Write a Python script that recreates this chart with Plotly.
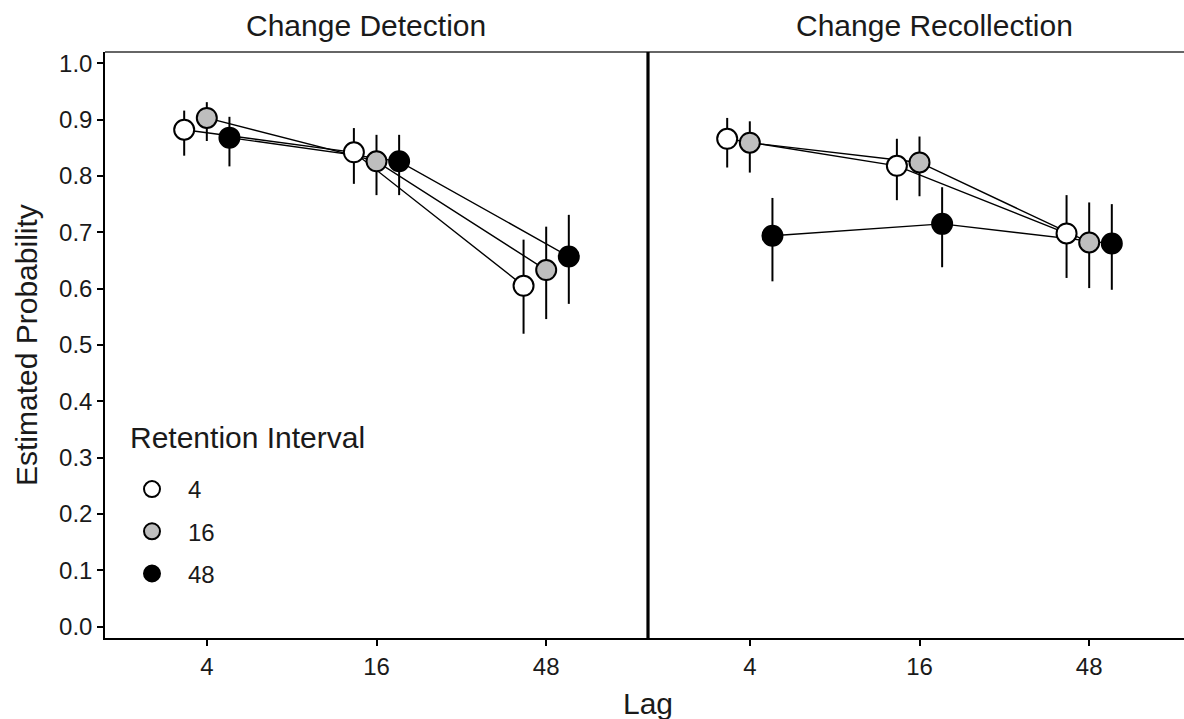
import plotly.graph_objects as go

# ---------------- data ----------------
lags = ["4", "16", "48"]
retention = ["4", "16", "48"]
panels = ["Change Detection", "Change Recollection"]
legend_title = "Retention Interval"
fills = ["white", "#BEBEBE", "black"]

# Change Detection: estimate / upper / lower, per retention interval across lags 4,16,48
det_r4 = [0.882, 0.842, 0.605]
det_r4_hi = [0.916, 0.885, 0.687]
det_r4_lo = [0.836, 0.786, 0.520]
det_r16 = [0.903, 0.826, 0.633]
det_r16_hi = [0.931, 0.873, 0.710]
det_r16_lo = [0.862, 0.766, 0.546]
det_r48 = [0.868, 0.826, 0.657]
det_r48_hi = [0.905, 0.873, 0.731]
det_r48_lo = [0.817, 0.766, 0.573]

# Change Recollection
rec_r4 = [0.866, 0.818, 0.698]
rec_r4_hi = [0.903, 0.866, 0.766]
rec_r4_lo = [0.815, 0.757, 0.619]
rec_r16 = [0.859, 0.824, 0.682]
rec_r16_hi = [0.897, 0.870, 0.753]
rec_r16_lo = [0.806, 0.764, 0.601]
rec_r48 = [0.694, 0.715, 0.680]
rec_r48_hi = [0.761, 0.780, 0.750]
rec_r48_lo = [0.613, 0.638, 0.598]

y_ticks = [round(0.1 * i, 1) for i in range(11)]

# ---------------- layout constants ----------------
W, H = 1184, 719
L, R, T, B = 105, 0, 52, 81
plot_w = W - L - R
plot_h = H - T - B
divider_px = 648
split = (divider_px - L) / plot_w
px_per_cat = (divider_px - L) / 3.2
right_span = (W - R - divider_px) / px_per_cat


def px_x(px):
    return (px - L) / plot_w


def px_y(py):
    return 1 - (py - T) / plot_h


FONT = "Liberation Sans, Arial, sans-serif"
TXT = "#1a1a1a"
TITLE_SIZE = 30
dodge = 0.4 / 3
offsets = [-dodge, 0.0, dodge]

panel_data = [
    [(det_r4, det_r4_hi, det_r4_lo), (det_r16, det_r16_hi, det_r16_lo), (det_r48, det_r48_hi, det_r48_lo)],
    [(rec_r4, rec_r4_hi, rec_r4_lo), (rec_r16, rec_r16_hi, rec_r16_lo), (rec_r48, rec_r48_hi, rec_r48_lo)],
]

fig = go.Figure()

for p, series in enumerate(panel_data):
    xa = "x" if p == 0 else "x2"
    ya = "y" if p == 0 else "y2"
    # connecting lines first (beneath all points)
    for g, (vals, hi, lo) in enumerate(series):
        xs = [i + 1 + offsets[g] for i in range(len(lags))]
        fig.add_trace(go.Scatter(
            x=xs, y=vals, mode="lines", xaxis=xa, yaxis=ya,
            line=dict(color="black", width=1.4), showlegend=False, hoverinfo="skip"))
    # points with error bars
    for g, (vals, hi, lo) in enumerate(series):
        xs = [i + 1 + offsets[g] for i in range(len(lags))]
        fig.add_trace(go.Scatter(
            x=xs, y=vals, mode="markers", xaxis=xa, yaxis=ya,
            name=retention[g], legendgroup="r" + retention[g],
            showlegend=(p == 0),
            marker=dict(size=20, color=fills[g], line=dict(color="black", width=2)),
            error_y=dict(type="data", symmetric=False,
                         array=[h - v for h, v in zip(hi, vals)],
                         arrayminus=[v - l for v, l in zip(vals, lo)],
                         width=0, thickness=2, color="black")))

axis_common = dict(showgrid=False, zeroline=False, ticks="outside", ticklen=6,
                   tickwidth=1.5, tickcolor="black", linecolor="black", linewidth=1.5,
                   tickfont=dict(family=FONT, size=24, color=TXT))

fig.update_layout(
    width=W, height=H,
    margin=dict(l=L, r=R, t=T, b=B, pad=0),
    paper_bgcolor="white", plot_bgcolor="white",
    font=dict(family=FONT, color="black"),
    xaxis=dict(domain=[0, split], range=[0.4, 3.6], tickmode="array",
               tickvals=[1, 2, 3], ticktext=lags, showline=True, anchor="y", **axis_common),
    xaxis2=dict(domain=[split, 1], range=[0.4, 0.4 + right_span], tickmode="array",
                tickvals=[1, 2, 3], ticktext=lags, showline=True, anchor="y2", **axis_common),
    yaxis=dict(range=[-0.02, 1.02], tickmode="array", tickvals=y_ticks,
               ticktext=[f"{v:.1f}" for v in y_ticks], showline=True, anchor="x",
               **axis_common),
    yaxis2=dict(range=[-0.02, 1.02], showticklabels=False, ticks="", showline=False,
                showgrid=False, zeroline=False, anchor="x2"),
    legend=dict(x=px_x(116), y=px_y(467), xanchor="left", yanchor="top",
                bgcolor="rgba(0,0,0,0)", font=dict(family=FONT, size=24, color=TXT),
                tracegroupgap=8, itemwidth=62),
    showlegend=True,
    shapes=[
        dict(type="line", xref="paper", yref="paper", x0=0, x1=1, y0=1, y1=1,
             line=dict(color="#333333", width=1.7)),
        dict(type="line", xref="paper", yref="paper", x0=split, x1=split, y0=0, y1=1,
             line=dict(color="black", width=3.2)),
    ],
    annotations=[
        dict(text=panels[0], xref="paper", yref="paper", x=px_x(365.5), y=1,
             xanchor="center", yanchor="middle", yshift=27, showarrow=False,
             font=dict(family=FONT, size=TITLE_SIZE, color=TXT)),
        dict(text=panels[1], xref="paper", yref="paper", x=px_x(934), y=1,
             xanchor="center", yanchor="middle", yshift=27, showarrow=False,
             font=dict(family=FONT, size=TITLE_SIZE, color=TXT)),
        dict(text="Lag", xref="paper", yref="paper", x=px_x(648), y=0,
             xanchor="center", yanchor="middle", yshift=-65, showarrow=False,
             font=dict(family=FONT, size=TITLE_SIZE, color=TXT)),
        dict(text="Estimated Probability", xref="paper", yref="paper", x=0, y=0.5,
             xanchor="center", yanchor="middle", xshift=-79, textangle=-90, showarrow=False,
             font=dict(family=FONT, size=TITLE_SIZE, color=TXT)),
        dict(text=legend_title, xref="paper", yref="paper", x=px_x(128), y=px_y(437),
             xanchor="left", yanchor="middle", showarrow=False,
             font=dict(family=FONT, size=TITLE_SIZE, color=TXT)),
    ],
)

fig.write_html("out.html", config={"displayModeBar": False},
               post_script="document.body.style.margin='0px';")
